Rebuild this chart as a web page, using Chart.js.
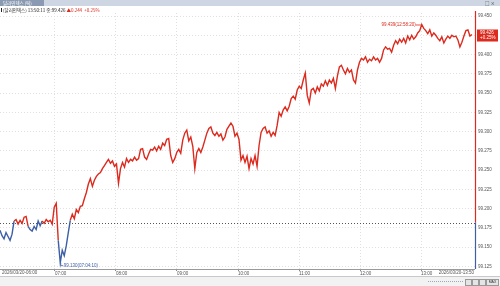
<!DOCTYPE html>
<html>
<head>
<meta charset="utf-8">
<script src="https://cdn.jsdelivr.net/npm/chart.js@4.4.1/dist/chart.umd.min.js"></script>
<style>
  body { margin: 0; background: #fff; }
</style>
</head>
<body>
<canvas id="myChart" width="500" height="286"></canvas>
<script>
// tick prices, sampled evenly from 06:06 to 13:50
const prices = [
  99.172, 99.165, 99.161, 99.169, 99.164, 99.159, 99.167, 99.184, 99.186, 99.180,
  99.185, 99.181, 99.189, 99.190, 99.177, 99.173, 99.171, 99.177, 99.173, 99.184,
  99.178, 99.184, 99.181, 99.186, 99.183, 99.185, 99.180, 99.202, 99.207, 99.159,
  99.130, 99.146, 99.139, 99.152, 99.169, 99.185, 99.193, 99.187, 99.199, 99.195,
  99.203, 99.204, 99.213, 99.221, 99.232, 99.239, 99.229, 99.237, 99.242, 99.245,
  99.247, 99.252, 99.256, 99.260, 99.264, 99.259, 99.262, 99.255, 99.258, 99.233,
  99.252, 99.260, 99.254, 99.265, 99.260, 99.264, 99.262, 99.267, 99.263, 99.265,
  99.277, 99.278, 99.267, 99.264, 99.271, 99.277, 99.276, 99.280, 99.275, 99.281,
  99.277, 99.285, 99.282, 99.290, 99.291, 99.269, 99.260, 99.265, 99.273, 99.277,
  99.272, 99.289, 99.298, 99.302, 99.288, 99.293, 99.281, 99.252, 99.273, 99.278,
  99.273, 99.280, 99.289, 99.298, 99.304, 99.306, 99.298, 99.295, 99.299, 99.294,
  99.297, 99.289, 99.293, 99.303, 99.307, 99.311, 99.307, 99.294, 99.298, 99.290,
  99.263, 99.269, 99.260, 99.268, 99.252, 99.265, 99.258, 99.269, 99.255, 99.282,
  99.299, 99.304, 99.306, 99.298, 99.301, 99.294, 99.299, 99.295, 99.308, 99.325,
  99.320, 99.328, 99.332, 99.327, 99.333, 99.343, 99.346, 99.342, 99.354, 99.359,
  99.356, 99.367, 99.376, 99.347, 99.337, 99.354, 99.356, 99.350, 99.358, 99.353,
  99.362, 99.359, 99.366, 99.360, 99.367, 99.363, 99.369, 99.356, 99.372, 99.384,
  99.386, 99.380, 99.375, 99.382, 99.377, 99.380, 99.367, 99.363, 99.380, 99.390,
  99.395, 99.393, 99.397, 99.390, 99.394, 99.392, 99.397, 99.393, 99.395, 99.390,
  99.395, 99.406, 99.410, 99.407, 99.408, 99.403, 99.412, 99.418, 99.414, 99.420,
  99.416, 99.421, 99.415, 99.424, 99.419, 99.425, 99.420, 99.423, 99.428, 99.431,
  99.439, 99.434, 99.431, 99.427, 99.432, 99.424, 99.428, 99.425, 99.421, 99.418,
  99.423, 99.415, 99.420, 99.424, 99.421, 99.425, 99.423, 99.424, 99.419, 99.410,
  99.416, 99.424, 99.431, 99.432, 99.424, 99.426
];
const firstTime = "06:06";
const lastTime = "13:50";
const axisStart = "06:06";
const axisEnd = "13:53";
const hourTicks = ["07:00", "08:00", "09:00", "10:00", "11:00", "12:00", "13:00"];
const yTicks = [99.125, 99.150, 99.175, 99.200, 99.225, 99.250, 99.275, 99.300,
                99.325, 99.350, 99.375, 99.400, 99.425, 99.450];
const prevClose = 99.182;
const leftDate = "2026/03/20-06:00";
const rightDate = "2026/03/20-13:50";
const hiLabel = "99.439(12:58:20)";
const loLabel = "99.130(07:04:10)";
const lastBox = ["99.426", "+0.25%"];
const tabTitle = "달러인덱스 (틱)";
const infoBlack = "(달러인덱스) 13:50:11 종:99.426 ";
const infoRed = "▲0.244  +0.25%";

const RED = '#dc2a1e';
const BLUE = '#3d5fa6';
const FONT = '"Liberation Sans", Arial, sans-serif';
const KFONT = '"Noto Sans CJK KR", sans-serif';

function toMin(s) {
  const p = s.split(':');
  return +p[0] * 60 + +p[1];
}

const t0 = toMin(firstTime), t1 = toMin(lastTime);
const points = prices.map((v, i) => ({ x: t0 + i * (t1 - t0) / (prices.length - 1), y: v }));

function fmtTime(m) {
  const h = Math.floor(m / 60), mm = Math.round(m % 60);
  return String(h).padStart(2, '0') + ':' + String(mm).padStart(2, '0');
}

const decor = {
  id: 'decor',
  beforeDatasetsDraw(chart) {
    const { ctx, chartArea: a, scales: { y } } = chart;
    const py = Math.round(y.getPixelForValue(prevClose)) + 0.5;
    ctx.save();
    ctx.strokeStyle = '#555';
    ctx.lineWidth = 1;
    ctx.setLineDash([1, 2]);
    ctx.beginPath();
    ctx.moveTo(a.left, py);
    ctx.lineTo(a.right, py);
    ctx.stroke();
    ctx.restore();
  },
  afterDraw(chart) {
    const { ctx, chartArea: a, scales: { x, y } } = chart;
    ctx.save();

    // header bar
    ctx.fillStyle = '#cdd6e2';
    ctx.fillRect(0, 0, 500, 6);
    ctx.fillStyle = '#8a9ab2';
    ctx.fillRect(0, 0, 44, 6);
    ctx.fillStyle = '#fff';
    ctx.font = '4.5px ' + KFONT;
    ctx.textBaseline = 'middle';
    ctx.fillText(tabTitle, 3, 3.2);
    ctx.fillStyle = '#444';
    ctx.fillText('□ ×', 485, 3.2);

    ctx.fillStyle = '#222';
    ctx.fillRect(1, 8, 1, 4);
    ctx.fillText(infoBlack, 3, 10.2);
    const w = ctx.measureText(infoBlack).width;
    ctx.fillStyle = RED;
    ctx.fillText(infoRed, 3 + w, 10.2);

    // right axis line, red above previous close, blue below
    const py = y.getPixelForValue(prevClose);
    const ax = a.right + 0.5;
    ctx.lineWidth = 1.2;
    ctx.strokeStyle = RED;
    ctx.beginPath(); ctx.moveTo(ax, a.top - 2); ctx.lineTo(ax, py); ctx.stroke();
    ctx.strokeStyle = BLUE;
    ctx.beginPath(); ctx.moveTo(ax, py); ctx.lineTo(ax, a.bottom); ctx.stroke();

    // last price box
    const last = prices[prices.length - 1];
    const ly = y.getPixelForValue(last);
    ctx.fillStyle = RED;
    ctx.fillRect(a.right + 2, ly - 5, 21, 12);
    ctx.fillStyle = '#fff';
    ctx.font = '4.5px ' + FONT;
    ctx.textAlign = 'left';
    ctx.fillText(lastBox[0], a.right + 5, ly - 1.5);
    ctx.fillText(lastBox[1], a.right + 5, ly + 3.5);

    // high / low marks
    const hi = Math.max(...prices), lo = Math.min(...prices);
    const hiP = points[prices.indexOf(hi)], loP = points[prices.indexOf(lo)];
    const hx = x.getPixelForValue(hiP.x), hy = y.getPixelForValue(hi);
    ctx.strokeStyle = RED; ctx.lineWidth = 0.8;
    ctx.beginPath(); ctx.moveTo(hx - 6, hy + 0.5); ctx.lineTo(hx, hy + 0.5); ctx.stroke();
    ctx.fillStyle = RED;
    ctx.textAlign = 'right';
    ctx.fillText(hiLabel, hx - 6, hy + 0.5);

    const lx = x.getPixelForValue(loP.x), lyy = y.getPixelForValue(lo);
    ctx.strokeStyle = BLUE;
    ctx.beginPath();
    ctx.moveTo(lx + 0.5, lyy); ctx.lineTo(lx + 0.5, lyy + 3); ctx.lineTo(lx + 3, lyy + 3);
    ctx.stroke();
    ctx.fillStyle = BLUE;
    ctx.textAlign = 'left';
    ctx.fillText(loLabel, lx + 3.5, lyy + 3);

    // x-axis band borders and end dates
    ctx.strokeStyle = '#9a9a9a'; ctx.lineWidth = 1;
    ctx.beginPath(); ctx.moveTo(0, a.bottom + 0.5); ctx.lineTo(a.right, a.bottom + 0.5); ctx.stroke();
    ctx.strokeStyle = '#c8c8c8';
    ctx.beginPath(); ctx.moveTo(0, 276.5); ctx.lineTo(500, 276.5); ctx.stroke();
    ctx.fillStyle = '#555';
    ctx.textAlign = 'left';
    ctx.fillText(leftDate, 2, 272.5);
    ctx.textAlign = 'right';
    ctx.fillText(rightDate, a.right - 1, 272.5);

    // scroll bar
    ctx.fillStyle = '#f2f2f2';
    ctx.fillRect(0, 277, 500, 9);
    ctx.strokeStyle = '#9aa7c0';
    ctx.setLineDash([1, 1]);
    ctx.beginPath(); ctx.moveTo(428, 281.5); ctx.lineTo(463, 281.5); ctx.stroke();
    ctx.setLineDash([]);
    ctx.fillStyle = '#e4e4e4';
    ctx.strokeStyle = '#999';
    [465, 472, 479].forEach(bx => { ctx.fillRect(bx, 279, 6, 6); ctx.strokeRect(bx + 0.5, 279.5, 6, 6); });
    ctx.fillRect(486, 279, 12, 6); ctx.strokeRect(486.5, 279.5, 12, 6);
    ctx.fillStyle = '#333';
    ctx.font = '3.5px ' + FONT;
    ctx.textAlign = 'center';
    ctx.fillText('MAX', 492.5, 282.5);
    ctx.restore();
  }
};

const config = {
  type: 'line',
  data: {
    datasets: [{
      data: points,
      borderWidth: 1.4,
      pointRadius: 0,
      tension: 0,
      borderColor: RED,
      segment: {
        borderColor: c => ((c.p0.parsed.y + c.p1.parsed.y) / 2 >= prevClose ? RED : BLUE)
      }
    }]
  },
  options: {
    responsive: false,
    animation: false,
    layout: { padding: { top: 13, left: 0, right: 0, bottom: 0 } },
    plugins: { legend: { display: false }, tooltip: { enabled: false } },
    scales: {
      x: {
        type: 'linear',
        min: toMin(axisStart),
        max: toMin(axisEnd),
        afterBuildTicks: s => { s.ticks = hourTicks.map(h => ({ value: toMin(h) })); },
        afterFit: s => { s.height = 17; s.paddingLeft = 0; s.paddingRight = 0; },
        ticks: {
          align: 'start',
          autoSkip: false,
          maxRotation: 0,
          padding: 0,
          color: '#555',
          font: { size: 4.5, family: FONT },
          callback: v => fmtTime(v)
        },
        grid: {
          color: '#e0e0e0',
          tickColor: '#888',
          tickLength: 2,
          tickBorderDash: []
        },
        border: { display: false, dash: [1, 2] }
      },
      y: {
        position: 'right',
        min: 99.1218,
        max: 99.4539,
        afterBuildTicks: s => { s.ticks = yTicks.map(v => ({ value: v })); },
        afterFit: s => { s.width = 25; },
        ticks: {
          padding: 3,
          color: '#555',
          font: { size: 4.5, family: FONT },
          callback: v => v.toFixed(3)
        },
        grid: { color: '#e0e0e0', drawTicks: false },
        border: { display: false, dash: [1, 2] }
      }
    }
  },
  plugins: [decor]
};

const myChart = new Chart('myChart', config);
</script>
</body>
</html>
